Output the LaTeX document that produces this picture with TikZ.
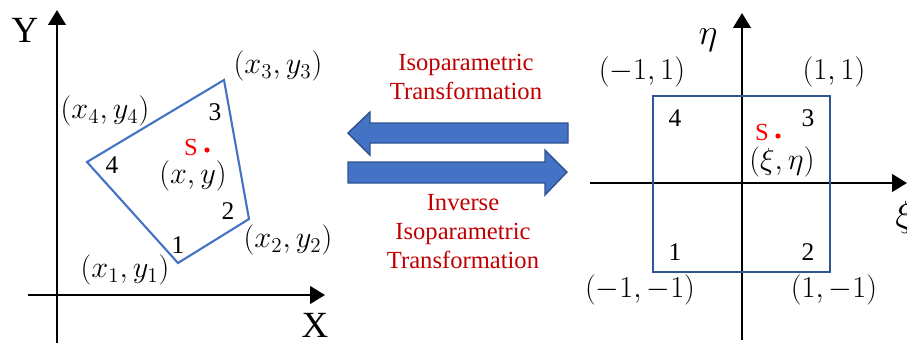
\documentclass[tikz,border=0pt]{standalone}
\usepackage{fontspec}
\setmainfont{Liberation Serif}
\usepackage{tikz}
\usetikzlibrary{positioning,arrows.meta,calc}
\usepackage{xcolor}
\definecolor{qblue}{HTML}{4472C4}
\definecolor{sblue}{HTML}{2F5597}
\definecolor{aedge}{HTML}{2F528F}
\definecolor{tred}{HTML}{C00000}

\begin{document}
\begin{tikzpicture}[x=0.02cm, y=-0.02cm, >={Triangle[length=8.5pt,width=10pt]},
   ax/.style={->, line width=1.4pt, black},
   lbl/.style={font=\fontsize{16.5}{18}\selectfont, inner sep=0pt},
   num/.style={font=\fontsize{14.5}{16}\selectfont, inner sep=0pt},
   big/.style={font=\fontsize{21}{24}\selectfont, inner sep=0pt},
   ttl/.style={font=\fontsize{14}{16.5}\selectfont, text=tred, align=center, inner sep=0pt},
   spt/.style={font=\fontsize{14}{16}\selectfont, text=red, inner sep=0pt},
   fat/.style={fill=qblue, draw=aedge, line width=0.8pt, line join=miter}]
  \useasboundingbox (0,0) rectangle (907,343);
  % physical element
  \coordinate (xs) at (28,295);
  \coordinate (xe) at (325,295);
  \coordinate (ys) at (57,343);
  \coordinate (ye) at (57,10);
  \draw[ax] (xs) -- (xe);
  \draw[ax] (ys) -- (ye);
  \node[big] (Ylab) at (25,30) {Y};
  \node[big] (Xlab) at (315,325) {X};
  \coordinate (p1) at (178,263);
  \coordinate (p2) at (249,219);
  \coordinate (p3) at (224,80);
  \coordinate (p4) at (87,162);
  \draw[qblue, line width=1.2pt, line join=miter] (p1) -- (p2) -- (p3) -- (p4) -- cycle;
  \node[num] (n1) at (178,245) {1};
  \node[num] (n2) at (228,211) {2};
  \node[num] (n3) at (215,112) {3};
  \node[num] (n4) at (112,165) {4};
  \node[lbl] (c1) at (125,270) {$(x_1,y_1)$};
  \node[lbl] (c2) at (288,240) {$(x_2,y_2)$};
  \node[lbl] (c3) at (278,66) {$(x_3,y_3)$};
  \node[lbl] (c4) at (105,111) {$(x_4,y_4)$};
  \node[spt] (sl) at (191,147) {S};
  \fill[red] (207,150) circle (2.6);
  \node[lbl] (sxy) at (193,176) {$(x,y)$};
  % transformation arrows
  \node[ttl] (iso) at (466,77) {Isoparametric\\Transformation};
  \fill[fat] (568,123) -- (370,123) -- (370,112) -- (348,133) -- (370,155) -- (370,143) -- (568,143) -- cycle;
  \fill[fat] (348,162) -- (545,162) -- (545,150) -- (567,172) -- (545,195) -- (545,183) -- (348,183) -- cycle;
  \node[ttl] (inv) at (463,232) {Inverse\\Isoparametric\\Transformation};
  % parent element
  \coordinate (xi0) at (590,183);
  \coordinate (xi1) at (907,183);
  \coordinate (et0) at (742,340);
  \coordinate (et1) at (742,13);
  \draw[ax] (xi0) -- (xi1);
  \draw[ax] (et0) -- (et1);
  \node[big] (etl) at (708,40) {$\eta$};
  \node[big, anchor=west] (xil) at (895,217) {$\xi$};
  \draw[sblue, line width=1.2pt] (653,96) rectangle (830,272);
  \node[num] (m4) at (675,118) {4};
  \node[num] (m3) at (808,118) {3};
  \node[num] (m1) at (675,252) {1};
  \node[num] (m2) at (808,252) {2};
  \node[lbl] (d4) at (642,72) {$(-1,1)$};
  \node[lbl] (d3) at (834,72) {$(1,1)$};
  \node[lbl] (d1) at (640,290) {$(-1,-1)$};
  \node[lbl] (d2) at (834,290) {$(1,-1)$};
  \node[spt] (sr) at (762,132) {S};
  \fill[red] (778,136) circle (2.6);
  \node[lbl] (sxe) at (782,162) {$(\xi,\eta)$};
\end{tikzpicture}
\end{document}
